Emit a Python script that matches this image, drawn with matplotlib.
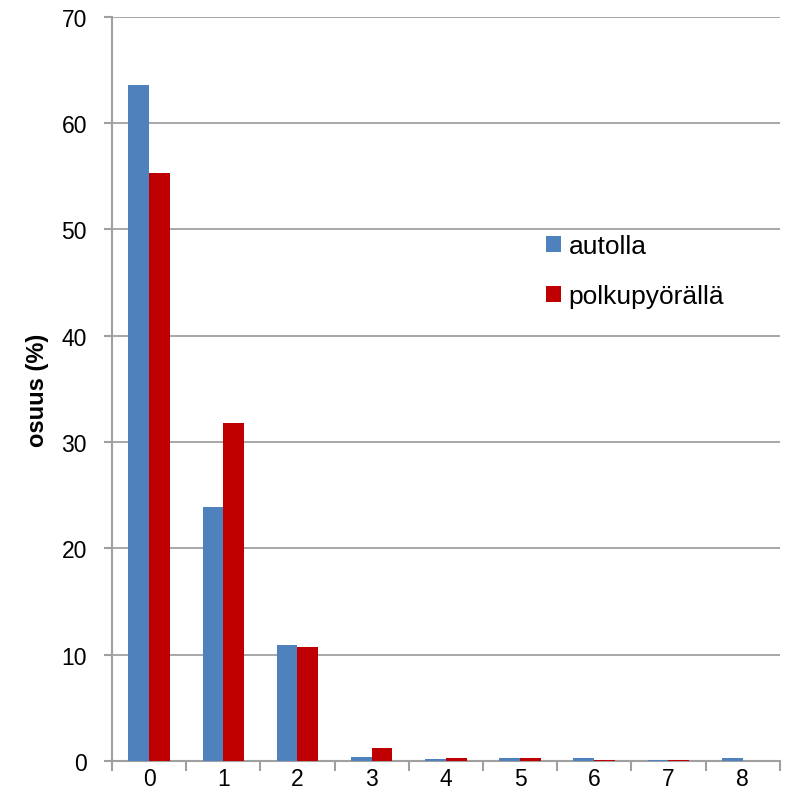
import numpy as np
import matplotlib.pyplot as plt

# category labels and series values (%)
categories = ['0', '1', '2', '3', '4', '5', '6', '7', '8']
autolla = [63.6, 23.9, 10.9, 0.4, 0.15, 0.28, 0.28, 0.12, 0.28]
polkupyoralla = [55.3, 31.8, 10.7, 1.2, 0.28, 0.28, 0.12, 0.12, 0.0]

plt.rcParams['font.family'] = ['Liberation Sans', 'DejaVu Sans']

fig = plt.figure(figsize=(7.86, 8.12), dpi=100)
ax = fig.add_axes([0.1425, 0.0616, 0.8495, 0.9164])

x = np.arange(len(categories))
w = 0.28
ax.bar(x - w / 2, autolla, w, color='#4F81BD', label='autolla', zorder=3)
ax.bar(x + w / 2, polkupyoralla, w, color='#C00000', label='polkupyörällä', zorder=3)

ax.set_xlim(-0.5, len(categories) - 0.5)
ax.set_ylim(0, 70)
ax.set_yticks(range(0, 71, 10))
ax.set_xticks(x)
ax.set_xticklabels(categories)
ax.set_xticks(np.arange(-0.5, len(categories), 1), minor=True)
ax.tick_params(axis='x', which='major', length=0, labelsize=16.5, pad=4)
ax.tick_params(axis='x', which='minor', length=7, color='#A0A0A0', width=1.5)
ax.tick_params(axis='y', length=6, color='#A0A0A0', width=1.5, labelsize=16.5, pad=12)

ax.grid(axis='y', color='#A0A0A0', linewidth=1.3, zorder=0)
for s in ['top', 'right']:
    ax.spines[s].set_visible(False)
ax.spines['left'].set_color('#A0A0A0')
ax.spines['left'].set_linewidth(1.5)
ax.spines['bottom'].set_color('#A0A0A0')
ax.spines['bottom'].set_linewidth(1.5)

ax.set_ylabel('osuus (%)', fontsize=17, fontweight='bold', labelpad=9)

ax.legend(loc='upper left', bbox_to_anchor=(0.615, 0.74), frameon=False,
          fontsize=19, handlelength=0.55, handleheight=0.55, handletextpad=0.3,
          labelspacing=1.0)

fig.savefig('out.png', dpi=100)
